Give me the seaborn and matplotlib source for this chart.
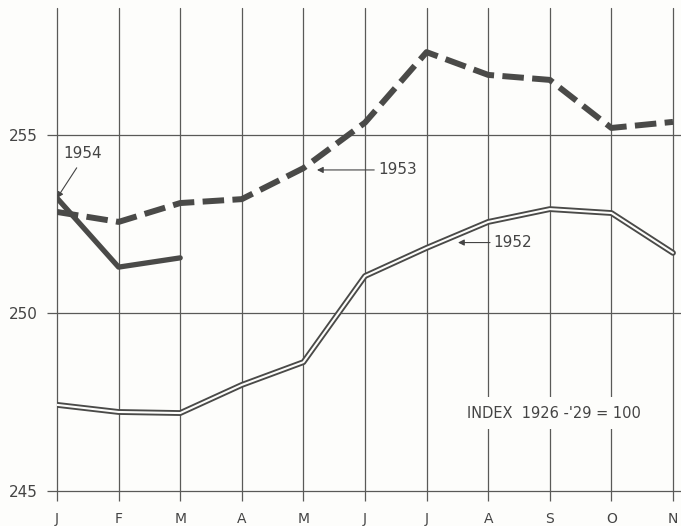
import matplotlib.pyplot as plt
import seaborn as sns
import pandas as pd

months = ['J', 'F', 'M', 'A', 'M', 'J', 'J', 'A', 'S', 'O', 'N']
idx_1952 = [247.42, 247.22, 247.19, 247.98, 248.62, 251.04, 251.83, 252.56, 252.92, 252.81, 251.69]
idx_1953 = [252.84, 252.56, 253.09, 253.20, 254.07, 255.35, 257.33, 256.69, 256.55, 255.20, 255.37]
idx_1954 = [253.23, 251.29, 251.55]

ink = '#4a4a48'
grid_c = '#5a5a58'
paper = '#fdfdfb'

sns.set_style('white')
plt.rcParams['font.family'] = ['DejaVu Sans']

fig = plt.figure(figsize=(6.81, 5.26), dpi=100)
fig.patch.set_facecolor(paper)
ax = fig.add_axes([57 / 681, 35 / 526, 624 / 681, 483 / 526])
ax.set_facecolor(paper)

pos = list(range(len(months)))
df52 = pd.DataFrame({'m': pos, 'v': idx_1952})
df53 = pd.DataFrame({'m': pos, 'v': idx_1953})
df54 = pd.DataFrame({'m': pos[:len(idx_1954)], 'v': idx_1954})

# 1952: double line (dark outline with white core)
sns.lineplot(data=df52, x='m', y='v', ax=ax, color=ink, lw=4.2, zorder=3)
sns.lineplot(data=df52, x='m', y='v', ax=ax, color=paper, lw=1.5, zorder=4)
# 1953: heavy dashes
sns.lineplot(data=df53, x='m', y='v', ax=ax, color=ink, lw=4.3, zorder=3)
ax.lines[-1].set_dashes([3.6, 1.4])
# 1954: heavy solid
sns.lineplot(data=df54, x='m', y='v', ax=ax, color=ink, lw=3.8, zorder=5)

ax.set_xlim(0, 10.13)
ax.set_ylim(245, 258.57)
ax.set_xticks(pos)
ax.set_xticklabels(months)
ax.set_yticks([245, 250, 255])
ax.set_xlabel('')
ax.set_ylabel('')
for s in ax.spines.values():
    s.set_visible(False)
ax.grid(True, color=grid_c, lw=0.9, zorder=1)
for gl in ax.get_ygridlines() + ax.get_xgridlines():
    gl.set_clip_on(False)
ax.tick_params(axis='x', bottom=True, direction='out', length=7, width=0.9, color=grid_c,
               pad=8, labelsize=10, labelcolor='#444')
ax.tick_params(axis='y', left=True, direction='out', length=7.5, width=0.9, color=grid_c,
               pad=6, labelsize=11, labelcolor='#444')

arrow = dict(arrowstyle='-|>', color='#444', lw=0.8, mutation_scale=9,
             shrinkA=0, shrinkB=0)
ax.text(0.41, 254.49, '1954', ha='center', va='center', fontsize=11, color='#444')
ax.annotate('', xy=(0.0, 253.23), xytext=(0.32, 254.08), arrowprops=arrow)
ax.text(5.21, 254.02, '1953', ha='left', va='center', fontsize=11, color='#444')
ax.annotate('', xy=(4.22, 254.02), xytext=(5.15, 254.02), arrowprops=arrow)
ax.text(7.08, 251.98, '1952', ha='left', va='center', fontsize=11, color='#444')
ax.annotate('', xy=(6.51, 251.98), xytext=(7.03, 251.98), arrowprops=arrow)

ax.text(8.07, 247.19, "INDEX  1926 -'29 = 100", ha='center', va='center', fontsize=10.5,
        color='#444', zorder=6,
        bbox=dict(facecolor=paper, edgecolor='none', pad=6))

fig.savefig('out.png', dpi=100, facecolor=fig.get_facecolor())
